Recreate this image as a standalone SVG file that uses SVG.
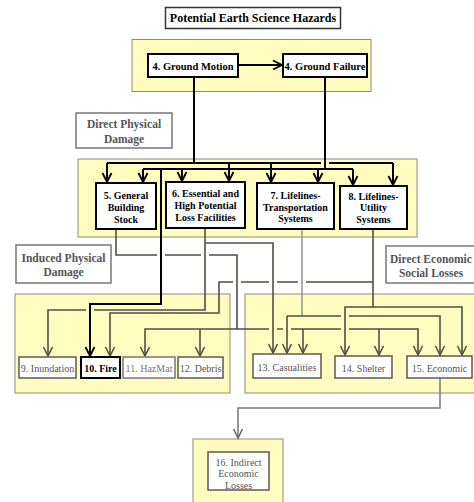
<svg xmlns="http://www.w3.org/2000/svg" width="474" height="502" viewBox="0 0 474 502">
<style>
text{font-family:"Liberation Serif","Times New Roman",serif;text-anchor:middle}
.b{font-weight:bold;font-size:10px;fill:#000}
.lab{font-weight:bold;font-size:11.5px;fill:#555}
.r{font-size:10px;fill:#555}
.panel{fill:#fffcc0;stroke:#8c8c78;stroke-width:1}
.box{fill:#fff;stroke:#000;stroke-width:2}
.lbox{fill:#fff;stroke:#777;stroke-width:1.5}
.gbox{fill:#fff;stroke:#5a5a50;stroke-width:1.5}
.cb{fill:none;stroke:#000;stroke-width:2}
.cd{fill:none;stroke:#4f4f45;stroke-width:1.6}
.cg{fill:none;stroke:#999;stroke-width:1.6}
.cm{fill:none;stroke:#777;stroke-width:1.5}
</style>
<defs>
<marker id="ab" viewBox="0 0 10 10" refX="9" refY="5" markerWidth="10" markerHeight="10" markerUnits="userSpaceOnUse" orient="auto" overflow="visible"><path d="M0,0.5 L9,5 L0,9.5" fill="none" stroke="#000" stroke-width="1.8"/></marker>
<marker id="ad" viewBox="0 0 10 10" refX="9" refY="5" markerWidth="10" markerHeight="10" markerUnits="userSpaceOnUse" orient="auto" overflow="visible"><path d="M0,0.5 L9,5 L0,9.5" fill="none" stroke="#4f4f45" stroke-width="1.6"/></marker>
<marker id="am" viewBox="0 0 10 10" refX="9" refY="5" markerWidth="10" markerHeight="10" markerUnits="userSpaceOnUse" orient="auto" overflow="visible"><path d="M0,0.5 L9,5 L0,9.5" fill="none" stroke="#666" stroke-width="1.5"/></marker>
</defs>
<rect width="474" height="502" fill="#fff"/>

<g id="panels">
<rect class="panel" x="132" y="39.5" width="239" height="52"/>
<rect class="panel" x="78" y="159" width="339" height="78"/>
<rect class="panel" x="15" y="294" width="215" height="99"/>
<rect class="panel" x="245" y="294" width="240" height="99"/>
<rect class="panel" x="193" y="439" width="90" height="70"/>
</g>

<g id="title">
<rect x="165.5" y="7.5" width="175" height="21" fill="#fff" stroke="#333" stroke-width="1.5"/>
<text x="253" y="22" style="font-weight:bold;font-size:12px">Potential Earth Science Hazards</text>
</g>

<g id="connectors">
<path class="cb" d="M238,65 H282" marker-end="url(#ab)"/>
<path class="cb" d="M194,77 V163"/>
<path class="cb" d="M107,163 H321 M329,163 H393"/>
<path class="cb" d="M107,163 V182" marker-end="url(#ab)"/>
<path class="cb" d="M229,163 V181" marker-end="url(#ab)"/>
<path class="cb" d="M271,163 V182" marker-end="url(#ab)"/>
<path class="cb" d="M393,163 V185" marker-end="url(#ab)"/>
<path class="cb" d="M325,77 V169"/>
<path class="cb" d="M143,169 H353"/>
<path class="cb" d="M143,169 V182" marker-end="url(#ab)"/>
<path class="cb" d="M182,169 V181" marker-end="url(#ab)"/>
<path class="cb" d="M318,169 V182" marker-end="url(#ab)"/>
<path class="cb" d="M353,169 V185" marker-end="url(#ab)"/>
<path class="cb" d="M161,169 V304 H90 V356" marker-end="url(#ab)"/>

<path class="cd" d="M116,229 V255 H157 M165,255 H201 M209,255 H237 V329"/>
<path class="cd" d="M237,329 H145 V356" marker-end="url(#ad)"/>
<path class="cd" d="M200,329 V356" marker-end="url(#ad)"/>
<path class="cd" d="M237,329 H269 M277,329 H283 M291,329 H341 M349,329 H418 V355" marker-end="url(#ad)"/>
<path class="cd" d="M303,329 V353" marker-end="url(#ad)"/>
<path class="cd" d="M379,329 V355" marker-end="url(#ad)"/>

<path class="cd" d="M205,228 V310 H94 M86,310 H48 V356" marker-end="url(#ad)"/>
<path class="cd" d="M205,243 H273 V353" marker-end="url(#ad)"/>

<path class="cd" d="M373,229 V307 H462 V355" marker-end="url(#ad)"/>
<path class="cd" d="M373,307 H345 V355" marker-end="url(#ad)"/>
<path class="cd" d="M373,282 H306 M298,282 H277 M269,282 H241 M233,282 H219 V313 H110 V356" marker-end="url(#ad)"/>

<path class="cg" d="M302,229 V316"/>
<path class="cd" d="M287,316 H341 M349,316 H440 V355" marker-end="url(#ad)"/>
<path class="cd" d="M287,316 V353" marker-end="url(#ad)"/>

<path class="cm" d="M440,378 V408 H238 V438" marker-end="url(#am)"/>
</g>

<g id="n4a">
<rect class="box" x="148" y="54" width="90" height="23"/>
<text class="b" x="193" y="69.5" style="font-size:10.5px">4. Ground Motion</text>
</g>
<g id="n4b">
<rect class="box" x="283" y="54" width="84" height="23"/>
<text class="b" x="325" y="69.5" style="font-size:10.5px">4. Ground Failure</text>
</g>

<g id="lab-dpd">
<rect class="lbox" x="76" y="113" width="96" height="35"/>
<text class="lab" x="124" y="128">Direct Physical</text>
<text class="lab" x="124" y="143">Damage</text>
</g>

<g id="n5">
<rect class="box" x="96" y="183" width="60" height="46"/>
<text class="b" x="126" y="198.5">5. General</text>
<text class="b" x="126" y="210.5">Building</text>
<text class="b" x="126" y="222.5">Stock</text>
</g>
<g id="n6">
<rect class="box" x="166" y="182" width="79" height="46"/>
<text class="b" x="205.5" y="196.5">6. Essential and</text>
<text class="b" x="205.5" y="209">High Potential</text>
<text class="b" x="205.5" y="221">Loss Facilities</text>
</g>
<g id="n7">
<rect class="box" x="257" y="183" width="77" height="46"/>
<text class="b" x="295.5" y="198.5">7. Lifelines-</text>
<text class="b" x="295.5" y="210.5">Transportation</text>
<text class="b" x="295.5" y="222">Systems</text>
</g>
<g id="n8">
<rect class="box" x="340" y="186" width="67" height="43"/>
<text class="b" x="373.5" y="199.5">8. Lifelines-</text>
<text class="b" x="373.5" y="211">Utility</text>
<text class="b" x="373.5" y="223">Systems</text>
</g>

<g id="lab-ipd">
<rect class="lbox" x="16" y="245" width="95" height="38"/>
<text class="lab" x="63.5" y="262">Induced Physical</text>
<text class="lab" x="63.5" y="276">Damage</text>
</g>
<g id="lab-des">
<rect class="lbox" x="386" y="246" width="100" height="37"/>
<text class="lab" x="431" y="263">Direct Economic</text>
<text class="lab" x="431" y="277">Social Losses</text>
</g>

<g id="n9">
<rect class="gbox" x="19" y="357" width="57" height="21"/>
<text class="r" x="47.5" y="371.5">9. Inundation</text>
</g>
<g id="n10">
<rect class="box" x="81" y="357" width="39" height="21"/>
<text class="b" x="100.5" y="371.5">10. Fire</text>
</g>
<g id="n11">
<rect class="gbox" x="123" y="357" width="52" height="21" style="stroke:#777"/>
<text class="r" x="149" y="371.5" style="fill:#777">11. HazMat</text>
</g>
<g id="n12">
<rect class="gbox" x="178" y="357" width="45" height="21"/>
<text class="r" x="200.5" y="371.5">12. Debris</text>
</g>
<g id="n13">
<rect class="gbox" x="253" y="354" width="68" height="24"/>
<text class="r" x="287" y="370.5">13. Casualities</text>
</g>
<g id="n14">
<rect class="gbox" x="335" y="356" width="57" height="22"/>
<text class="r" x="363.5" y="371.5">14. Shelter</text>
</g>
<g id="n15">
<rect class="gbox" x="407" y="356" width="65" height="22"/>
<text class="r" x="439.5" y="371.5">15. Economic</text>
</g>
<g id="n16">
<rect class="gbox" x="208" y="452" width="61" height="38"/>
<text class="r" x="238.5" y="465.5">16. Indirect</text>
<text class="r" x="238.5" y="477">Economic</text>
<text class="r" x="238.5" y="488.5">Losses</text>
</g>
</svg>
